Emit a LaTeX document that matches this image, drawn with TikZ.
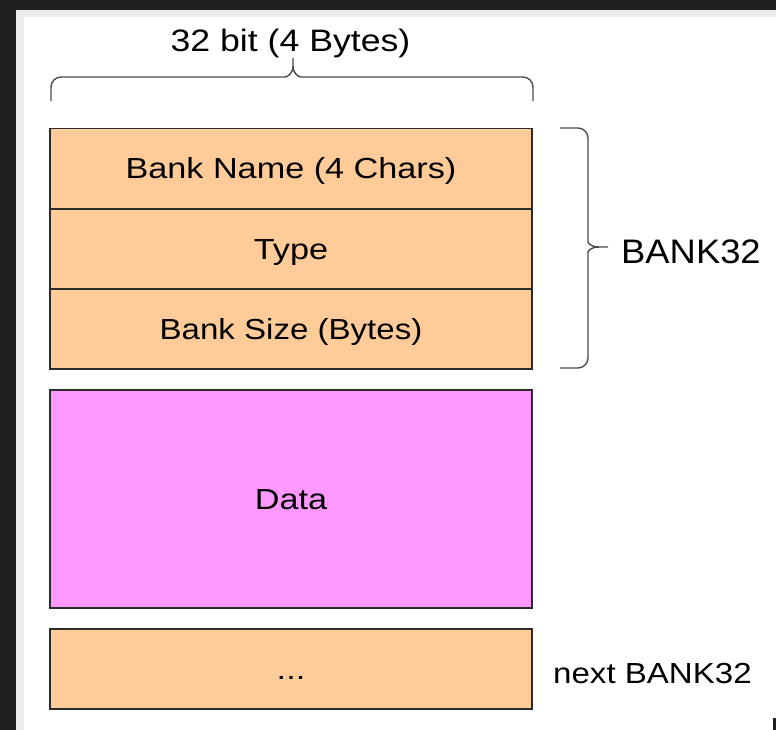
\documentclass[tikz,border=0pt]{standalone}
\usepackage{fontspec}
\usepackage{graphicx}
\setmainfont{Liberation Sans}
\definecolor{frameDark}{HTML}{1F1F1F}
\definecolor{frameGray}{HTML}{ECECEC}
\definecolor{hdrFill}{HTML}{FFCC99}
\definecolor{dataFill}{HTML}{FF99FF}
\definecolor{edge}{HTML}{2B2B2B}
\definecolor{braceCol}{HTML}{4A4A4A}
% text widened a little horizontally
\newcommand{\wide}[2]{\scalebox{#1}[1]{#2}}
\tikzset{
  cell/.style={draw=edge, line width=1.4pt, rectangle, inner sep=0pt,
    minimum width=482pt, text height=20.5pt, text depth=0pt,
    font=\fontsize{29}{34}\selectfont},
  hdr/.style={cell, fill=hdrFill},
  payload/.style={cell, fill=dataFill},
  bracepath/.style={draw=braceCol, line width=1.4pt, line join=round, rounded corners=10pt},
  lbl/.style={inner sep=0pt, text=black}
}
\begin{document}
\begin{tikzpicture}[x=1pt, y=-1pt]
  % window frame
  \fill[frameDark] (0,0) rectangle (776,730);
  \fill[frameGray] (16,10) rectangle (776,730);
  \fill[white] (24,17) rectangle (776,730);
  \fill[frameDark] (773,718) rectangle (776,730);
  \useasboundingbox (0,0) rectangle (776,730);

  % header words
  \node[hdr, minimum height=80.5pt] (name) at (291,168.5) {\wide{1.18}{Bank Name (4 Chars)}};
  \node[hdr, minimum height=80pt] (type) at (291,249) {\wide{1.18}{Type}};
  \node[hdr, minimum height=80pt] (size) at (291,329) {\wide{1.14}{Bank Size (Bytes)}};
  % payload
  \node[payload, minimum height=218pt] (data) at (291,499) {\wide{1.18}{Data}};
  % following bank
  \node[hdr, minimum height=80pt] (next) at (291,669) {\wide{1.18}{...}};

  % width brace above
  \path[bracepath] (51,101) -- (51,77) -- (275,77)
    [sharp corners] .. controls (287,77) and (293,74) .. (293,66) -- (293,58);
  \path[bracepath] (533,101) -- (533,77) -- (311,77)
    [sharp corners] .. controls (299,77) and (293,74) .. (293,66);
  \node[lbl, anchor=base, font=\fontsize{31}{36}\selectfont] (width) at (290.5,52) {\wide{1.15}{32 bit (4 Bytes)}};

  % header brace on the right
  \path[bracepath] (560,128) -- (588,128) -- (588,232)
    [sharp corners] .. controls (588,243) and (591,247) .. (599,247) -- (608,247);
  \path[bracepath] (560,368) -- (588,368) -- (588,262)
    [sharp corners] .. controls (588,251) and (591,247) .. (599,247);
  \node[lbl, anchor=base west, font=\fontsize{34}{40}\selectfont] (bank) at (621,263) {\wide{1.07}{BANK32}};

  \node[lbl, anchor=base west, font=\fontsize{29}{35}\selectfont] (nextlbl) at (553,683) {\wide{1.14}{next BANK32}};
\end{tikzpicture}
\end{document}
